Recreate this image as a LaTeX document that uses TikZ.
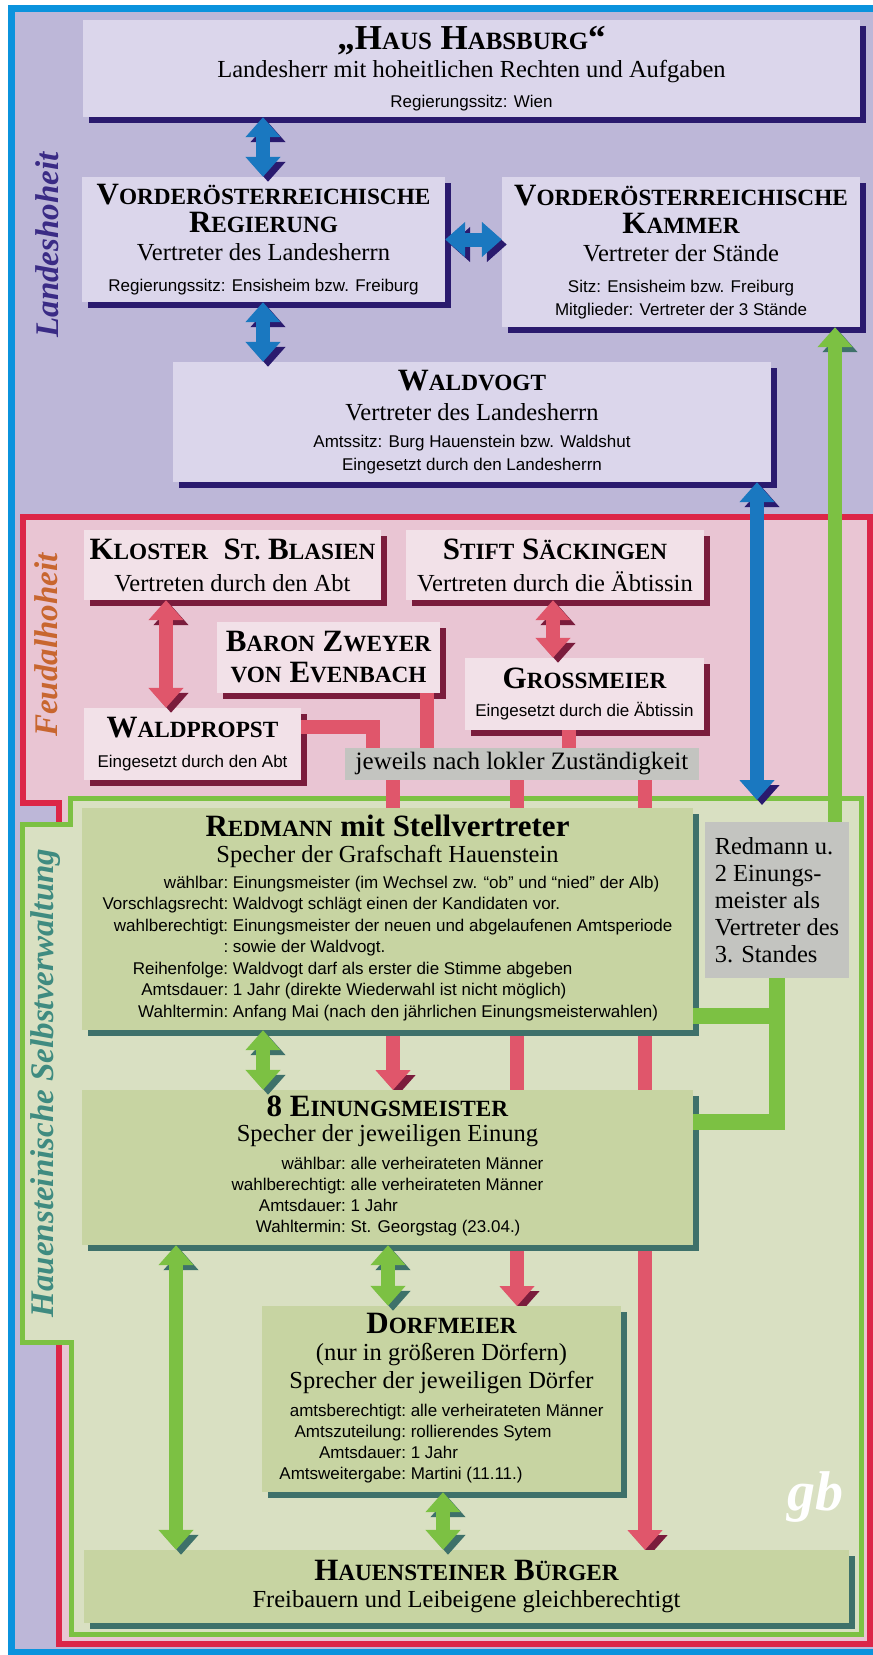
\documentclass[tikz,border=0pt]{standalone}
\usepackage{fontspec}
\usepackage{relsize}
\setmainfont{Liberation Serif}
\newfontfamily\sansf{Liberation Sans}
\usetikzlibrary{arrows.meta,shadows}

% colours
\definecolor{lavbg}{HTML}{BDB7D8}
\definecolor{lavbox}{HTML}{DBD6EB}
\definecolor{navyshd}{HTML}{2A1A6E}
\definecolor{bluearr}{HTML}{1A78C0}
\definecolor{blueline}{HTML}{0B93DD}
\definecolor{pinkbg}{HTML}{E9C5D3}
\definecolor{redline}{HTML}{DC2648}
\definecolor{pinkbox}{HTML}{F2E1E8}
\definecolor{maroonshd}{HTML}{7A1C3C}
\definecolor{redarr}{HTML}{E0566B}
\definecolor{greenbg}{HTML}{D9E0C2}
\definecolor{greenline}{HTML}{7CC143}
\definecolor{greenarr}{HTML}{7CC143}
\definecolor{greenbox}{HTML}{C7D4A2}
\definecolor{tealshd}{HTML}{3E716A}
\definecolor{graybox}{HTML}{C3C4C0}
\definecolor{landtxt}{HTML}{3A2B85}
\definecolor{feudtxt}{HTML}{C8662F}
\definecolor{selbtxt}{HTML}{3F8B80}

\newcommand{\kap}[2]{#1\textscale{.75}{#2}}
\newcommand{\titel}{\fontsize{31}{28}\selectfont\bfseries}
\newcommand{\zeile}{\fontsize{24.5}{28}\selectfont}
\newcommand{\info}{\sansf\fontsize{17}{21.5}\selectfont}

\tikzset{
  box/.style={rectangle, inner sep=0pt, align=center, font=\zeile},
  landbox/.style={box, fill=lavbox, drop shadow={shadow xshift=6pt, shadow yshift=-6pt, fill=navyshd, opacity=1}},
  feudbox/.style={box, fill=pinkbox, drop shadow={shadow xshift=6pt, shadow yshift=-6pt, fill=maroonshd, opacity=1}},
  selbbox/.style={box, fill=greenbox, drop shadow={shadow xshift=6pt, shadow yshift=-6pt, fill=tealshd, opacity=1}},
  notebox/.style={box, fill=graybox},
  region/.style={font=\fontsize{33}{33}\selectfont\bfseries\itshape, rotate=90},
  link/.style 2 args={line width=14pt, draw=#1, preaction={draw=#2, transform canvas={shift={(5pt,-5pt)}}}},
  bluelink/.style={link={bluearr}{navyshd}},
  redlink/.style={link={redarr}{maroonshd}},
  greenlink/.style={link={greenarr}{tealshd}},
  tipend/.style={-{Triangle[width=34pt,length=20pt]}},
  tipboth/.style={{Triangle[width=34pt,length=20pt]}-{Triangle[width=34pt,length=20pt]}},
}

\begin{document}
\begin{tikzpicture}[x=1pt, y=-1pt]
\useasboundingbox (0,0) rectangle (873,1655);

% the three areas
\draw[blueline, line width=7pt, fill=lavbg] (11.5,8.5) rectangle (890,1652.5);
\draw[redline, line width=6pt, fill=pinkbg] (23,516.5) -- (869.5,516.5) -- (869.5,1643.5)
  -- (59,1643.5) -- (59,803) -- (23,803) -- cycle;
\draw[greenline, line width=5pt, fill=greenbg] (70.5,798) -- (861.5,798) -- (861.5,1634.5)
  -- (71.5,1634.5) -- (71.5,1342) -- (22.5,1342) -- (22.5,824.5) -- (70.5,824.5) -- cycle;

\node[region, text=landtxt] (landes) at (47,245) {Landeshoheit};
\node[region, text=feudtxt] (feudal) at (46,645) {Feudalhoheit};
\node[region, text=selbtxt] (selbst) at (46,1083) {Hauensteinische Selbstverwaltung};

% lanes of the links
\coordinate (frametop) at (0,800);
\coordinate (xa) at (263,0);
\coordinate (xb) at (757,0);
\coordinate (xc) at (835,0);
\coordinate (xd) at (166,0);
\coordinate (xe) at (553,0);
\coordinate (xf) at (427,0);
\coordinate (xg) at (569,0);
\coordinate (xh) at (373,0);
\coordinate (xi) at (176,0);
\coordinate (xj) at (388,0);
\coordinate (xk) at (443,0);
\coordinate (lane1) at (393,0);
\coordinate (lane2) at (517,0);
\coordinate (lane3) at (645,0);
\coordinate (labeltop) at (0,748);
\coordinate (labelbot) at (0,780);

% red lines running behind the boxes
\draw[redlink, tipend] (labelbot -| lane1) -- (0,1090 -| lane1);
\draw[redlink, tipend] (labelbot -| lane2) -- (0,1306 -| lane2);
\draw[redlink, tipend] (labelbot -| lane3) -- (0,1550 -| lane3);

% Landeshoheit
\node[landbox, minimum width=777pt, minimum height=97pt] (habsburg) at (471.5,68.5)
  {{\fontsize{35}{28}\selectfont\bfseries „\kap{H}{AUS} \kap{H}{ABSBURG}“}\\
   Landesherr mit hoheitlichen Rechten und Aufgaben\\[2pt]
   {\info Regierungssitz: Wien}};
\node[landbox, minimum width=363pt, minimum height=125pt] (regierung) at (263.5,239.5)
  {{\titel \kap{V}{ORDERÖSTERREICHISCHE}}\\
   {\titel \kap{R}{EGIERUNG}}\\
   Vertreter des Landesherrn\\[3pt]
   {\info Regierungssitz: Ensisheim bzw. Freiburg}};
\node[landbox, minimum width=358pt, minimum height=150pt] (kammer) at (681,252)
  {{\titel \kap{V}{ORDERÖSTERREICHISCHE}}\\
   {\titel \kap{K}{AMMER}}\\
   Vertreter der Stände\\[3pt]
   {\info Sitz: Ensisheim bzw. Freiburg}\\[-5pt]
   {\info Mitglieder: Vertreter der 3 Stände}};
\node[landbox, minimum width=598pt, minimum height=120pt] (waldvogt) at (472,422)
  {{\titel \kap{W}{ALDVOGT}}\\[2pt]
   Vertreter des Landesherrn\\[-1pt]
   {\info Amtssitz: Burg Hauenstein bzw. Waldshut}\\[-5pt]
   {\info Eingesetzt durch den Landesherrn}};

% Feudalhoheit
\node[feudbox, minimum width=297pt, minimum height=70pt] (kloster) at (232.5,565)
  {{\titel \kap{K}{LOSTER}\ \ \kap{S}{T.} \kap{B}{LASIEN}}\\[4pt]
   Vertreten durch den Abt};
\node[feudbox, minimum width=298pt, minimum height=70pt] (stift) at (555,565)
  {{\titel \kap{S}{TIFT} \kap{S}{ÄCKINGEN}}\\[4pt]
   Vertreten durch die Äbtissin};
\node[feudbox, minimum width=223pt, minimum height=71pt] (baron) at (328.5,657.5)
  {{\titel \kap{B}{ARON} \kap{Z}{WEYER}}\\[3pt]
   {\titel \textscale{.75}{VON} \kap{E}{VENBACH}}};
\node[feudbox, minimum width=239pt, minimum height=72pt] (grossmeier) at (584.5,694)
  {{\titel \kap{G}{ROSSMEIER}}\\
   {\info Eingesetzt durch die Äbtissin}};
\node[feudbox, minimum width=217pt, minimum height=72pt] (waldpropst) at (192.5,744)
  {{\titel \kap{W}{ALDPROPST}}\\[2pt]
   {\info Eingesetzt durch den Abt}};

% Selbstverwaltung
\node[selbbox, minimum width=611pt, minimum height=222pt] (redmann) at (387.5,919)
  {{\titel \kap{R}{EDMANN} mit Stellvertreter}\\[-2pt]
   Specher der Grafschaft Hauenstein\\[-2pt]
   {\info\begin{tabular}[t]{@{}r@{\ }l@{}}
    wählbar: & Einungsmeister (im Wechsel zw. “ob” und “nied” der Alb)\\
    Vorschlagsrecht: & Waldvogt schlägt einen der Kandidaten vor.\\
    wahlberechtigt: & Einungsmeister der neuen und abgelaufenen Amtsperiode\\
    : & sowie der Waldvogt.\\
    Reihenfolge: & Waldvogt darf als erster die Stimme abgeben\\
    Amtsdauer: & 1 Jahr (direkte Wiederwahl ist nicht möglich)\\
    Wahltermin: & Anfang Mai (nach den jährlichen Einungsmeisterwahlen)
   \end{tabular}}};
\node[selbbox, minimum width=611pt, minimum height=155pt] (einung) at (387.5,1167.5)
  {{\titel 8 \kap{E}{INUNGSMEISTER}}\\[-3pt]
   Specher der jeweiligen Einung\\
   {\fontsize{17}{21}\selectfont\sansf\begin{tabular}[t]{@{}r@{\ }l@{}}
    wählbar: & alle verheirateten Männer\\
    wahlberechtigt: & alle verheirateten Männer\\
    Amtsdauer: & 1 Jahr\\
    Wahltermin: & St. Georgstag (23.04.)
   \end{tabular}}};
\node[selbbox, minimum width=359pt, minimum height=186pt] (dorf) at (441.5,1399)
  {{\titel \kap{D}{ORFMEIER}}\\[-1pt]
   (nur in größeren Dörfern)\\
   Sprecher der jeweiligen Dörfer\\
   {\fontsize{17}{21}\selectfont\sansf\begin{tabular}[t]{@{}r@{\ }l@{}}
    amtsberechtigt: & alle verheirateten Männer\\
    Amtszuteilung: & rollierendes Sytem\\
    Amtsdauer: & 1 Jahr\\
    Amtsweitergabe: & Martini (11.11.)
   \end{tabular}}};
\node[selbbox, minimum width=765pt, minimum height=73pt] (buerger) at (466.5,1586.5)
  {{\titel \kap{H}{AUENSTEINER} \kap{B}{ÜRGER}}\\[-1pt]
   Freibauern und Leibeigene gleichberechtigt};

% links of the Landeshoheit
\draw[bluelink, tipboth] (habsburg.south -| xa) -- (regierung.north -| xa);
\draw[bluelink, tipboth] (regierung.east) -- (kammer.west |- regierung.east);
\draw[bluelink, tipboth] (regierung.south -| xa) -- (waldvogt.north -| xa);
\draw[bluelink, tipboth] (waldvogt.south -| xb) -- (frametop -| xb);

% links of the Feudalhoheit
\draw[redlink, tipboth] (kloster.south -| xd) -- (waldpropst.north -| xd);
\draw[redlink, tipboth] (stift.south -| xe) -- (grossmeier.north -| xe);
\draw[redlink] ([yshift=-19pt]waldpropst.north east) -| (labeltop -| xh);
\draw[redlink] (baron.south -| xf) -- (labeltop -| xf);
\draw[redlink] (grossmeier.south -| xg) -- (labeltop -| xg);

% links of the Selbstverwaltung
\draw[greenlink, tipboth] (redmann.south -| xa) -- (einung.north -| xa);
\draw[greenlink, tipboth] (einung.south -| xi) -- (buerger.north -| xi);
\draw[greenlink, tipboth] (einung.south -| xj) -- (dorf.north -| xj);
\draw[greenlink, tipboth] (dorf.south -| xk) -- (buerger.north -| xk);
\draw[greenlink, tipend] (0,822 -| xc) -- (kammer.south -| xc);
\draw[greenlink, line width=16pt] ([yshift=14pt]redmann.south east) -| (777,977);
\draw[greenlink, line width=16pt] ([yshift=-32pt]einung.north east) -| (777,977);

\node[notebox, minimum width=144pt, minimum height=156pt, align=left,
  font=\fontsize{24.5}{27}\selectfont] (vertreter) at (777,900)
  {Redmann u.\\ 2 Einungs-\\ meister als\\ Vertreter des\\ 3. Standes};
\node[notebox, minimum width=354pt, minimum height=32pt, font=\fontsize{25}{28}\selectfont]
  (zustaendig) at (522,764) {jeweils nach lokler Zuständigkeit};

% signature
\node[text=white, font=\fontsize{56}{56}\selectfont\bfseries\itshape]
  (sign) at (815,1497) {gb};
\end{tikzpicture}
\end{document}
